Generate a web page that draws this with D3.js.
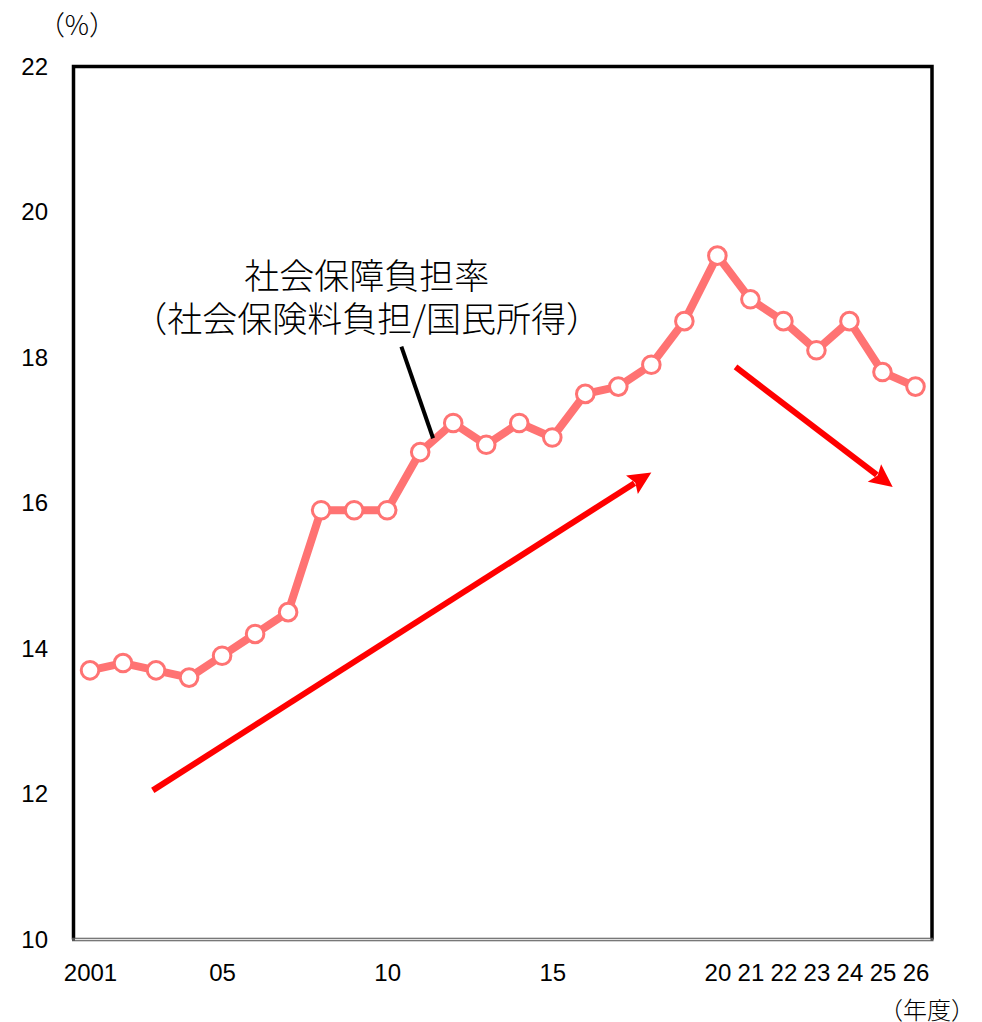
<!DOCTYPE html>
<html><head><meta charset="utf-8">
<script src="https://cdn.jsdelivr.net/npm/d3@7"></script>
<style>
html,body{margin:0;padding:0;background:#fff;}
svg{display:block;}
</style></head>
<body>
<svg id="chart" width="982" height="1022"></svg>
<script>
// ---- data ----
const years = [2001,2002,2003,2004,2005,2006,2007,2008,2009,2010,2011,2012,2013,2014,2015,2016,2017,2018,2019,2020,2021,2022,2023,2024,2025,2026];
const burdenRate = [13.7,13.8,13.7,13.6,13.9,14.2,14.5,15.9,15.9,15.9,16.7,17.1,16.8,17.1,16.9,17.5,17.6,17.9,18.5,19.4,18.8,18.5,18.1,18.5,17.8,17.6];
const xTickValues = [2001,2005,2010,2015,2020,2021,2022,2023,2024,2025,2026];
const xTickLabels = ["2001","05","10","15","20","21","22","23","24","25","26"];
const yTickValues = [10,12,14,16,18,20,22];
const yTickLabels = ["10","12","14","16","18","20","22"];
const seriesLabel = ["社会保障負担率","（社会保険料負担/国民所得）"];
const yUnit = "（%）";
const xUnit = "（年度）";
// trend arrows [startYear, startValue, endYear, endValue]
const arrowUp = [2002.9, 12.05, 2018.0, 16.42];
const arrowDown = [2020.55, 17.87, 2025.31, 16.22];
// leader line from label to series [year, value, year, value]
const leader = [2010.43, 18.15, 2011.39, 16.89];
const labelPos = [2009.38, 19.16, 18.57];

// ---- layout ----
const L = 73.5, T = 66.5, R = 932, B = 939.5;
const svg = d3.select("#chart");
const x = d3.scaleLinear().domain([2000.5, 2026.5]).range([L, R]);
const y = d3.scaleLinear().domain([10, 22]).range([B, T]);

const numFont = "'Liberation Sans', Arial, sans-serif";
const jpFont = "'Noto Sans CJK JP', 'Noto Sans', sans-serif";

// axes (labels only)
const yAxis = d3.axisLeft(y).tickValues(yTickValues)
  .tickFormat((d,i) => yTickLabels[i]).tickSize(0).tickPadding(25.5);
const gy = svg.append("g").attr("transform", `translate(${L},0)`).call(yAxis);
gy.select(".domain").remove();
gy.selectAll("text").attr("font-family", numFont).attr("font-size", 24).attr("fill", "#000");

const xAxis = d3.axisBottom(x).tickValues(xTickValues)
  .tickFormat((d,i) => xTickLabels[i]).tickSize(0).tickPadding(24);
const gx = svg.append("g").attr("transform", `translate(0,${B})`).call(xAxis);
gx.select(".domain").remove();
gx.selectAll("text").attr("font-family", numFont).attr("font-size", 24).attr("fill", "#000");

// frame
svg.append("path")
  .attr("d", `M${L},${B} L${L},${T} L${R},${T} L${R},${B}`)
  .attr("fill", "none").attr("stroke", "#000").attr("stroke-width", 3.5);
svg.append("line").attr("x1", L-1.5).attr("x2", R+1.5).attr("y1", B).attr("y2", B)
  .attr("stroke", "#555").attr("stroke-width", 3.5);
svg.append("line").attr("x1", L+1.5).attr("x2", R-1.5).attr("y1", B).attr("y2", B)
  .attr("stroke", "#e2e2e2").attr("stroke-width", 1.3);

// unit labels
svg.append("text").attr("x", 77).attr("y", 23).attr("text-anchor", "middle")
  .attr("dominant-baseline", "central").attr("font-family", jpFont).attr("font-weight", 300)
  .attr("font-size", 27).text(yUnit);
svg.append("text").attr("x", 927).attr("y", 1008).attr("text-anchor", "middle")
  .attr("dominant-baseline", "central").attr("font-family", jpFont).attr("font-weight", 300)
  .attr("font-size", 24).text(xUnit);

// arrows
function drawArrow(a) {
  const x1 = x(a[0]), y1 = y(a[1]), x2 = x(a[2]), y2 = y(a[3]);
  const ang = Math.atan2(y2 - y1, x2 - x1);
  const hl = 23, hw = 11;
  const bx = x2 - hl * Math.cos(ang), by = y2 - hl * Math.sin(ang);
  svg.append("line").attr("x1", x1).attr("y1", y1).attr("x2", bx + 3*Math.cos(ang)).attr("y2", by + 3*Math.sin(ang))
    .attr("stroke", "#ff0000").attr("stroke-width", 6);
  const px = -Math.sin(ang), py = Math.cos(ang);
  const ix = x2 - (hl - 4) * Math.cos(ang), iy = y2 - (hl - 4) * Math.sin(ang);
  svg.append("path")
    .attr("d", `M${x2},${y2} L${bx + hw*px},${by + hw*py} L${ix},${iy} L${bx - hw*px},${by - hw*py} Z`)
    .attr("fill", "#ff0000");
}
drawArrow(arrowUp);
drawArrow(arrowDown);

// series line
const line = d3.line().x((d,i) => x(years[i])).y(d => y(d));
svg.append("path").datum(burdenRate).attr("d", line)
  .attr("fill", "none").attr("stroke", "#ff7373").attr("stroke-width", 8).attr("stroke-linejoin", "round");
svg.append("g").selectAll("circle").data(burdenRate).join("circle")
  .attr("cx", (d,i) => x(years[i])).attr("cy", d => y(d)).attr("r", 8.8)
  .attr("fill", "#fff").attr("stroke", "#ff7373").attr("stroke-width", 3);

// leader line
svg.append("line").attr("x1", x(leader[0])).attr("y1", y(leader[1]))
  .attr("x2", x(leader[2])).attr("y2", y(leader[3]))
  .attr("stroke", "#000").attr("stroke-width", 4);

// series label
svg.append("text").attr("x", x(labelPos[0])).attr("y", y(labelPos[1]))
  .attr("text-anchor", "middle").attr("dominant-baseline", "central")
  .attr("font-family", jpFont).attr("font-weight", 300).attr("font-size", 35).text(seriesLabel[0]);
svg.append("text").attr("x", x(labelPos[0])).attr("y", y(labelPos[2]))
  .attr("text-anchor", "middle").attr("dominant-baseline", "central")
  .attr("font-family", jpFont).attr("font-weight", 300).attr("font-size", 35).text(seriesLabel[1]);
</script>
</body></html>
